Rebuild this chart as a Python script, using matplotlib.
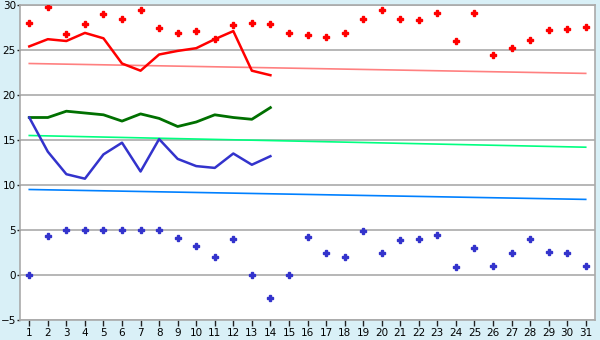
import numpy as np
import matplotlib.pyplot as plt

days = list(range(1, 32))
days_line = list(range(1, 15))

# daily maximum points (red) and minimum points (blue)
max_points = [28.0, 29.8, 26.8, 27.9, 29.0, 28.5, 29.4, 27.5, 26.9, 27.1,
              26.2, 27.8, 28.0, 27.9, 26.9, 26.7, 26.5, 26.9, 28.5, 29.5,
              28.4, 28.3, 29.1, 26.0, 29.1, 24.5, 25.2, 26.1, 27.2, 27.3, 27.6]
min_points = [0.0, 4.3, 5.0, 5.0, 5.0, 5.0, 5.0, 5.0, 4.1, 3.2,
              2.0, 4.0, 0.0, -2.5, 0.0, 4.2, 2.5, 2.0, 4.85, 2.5,
              3.85, 4.0, 4.5, 0.85, 3.0, 1.0, 2.5, 4.0, 2.6, 2.5, 1.0]

# current month lines (days 1-14)
max_line = [25.4, 26.2, 26.0, 26.9, 26.3, 23.5, 22.7, 24.5, 24.9, 25.2,
            26.2, 27.1, 22.7, 22.2]
mean_line = [17.5, 17.5, 18.2, 18.0, 17.8, 17.1, 17.9, 17.4, 16.5, 17.0,
             17.8, 17.5, 17.3, 18.6]
min_line = [17.5, 13.7, 11.2, 10.7, 13.4, 14.7, 11.5, 15.1, 12.9, 12.1,
            11.9, 13.5, 12.25, 13.2]

# normal lines, start and end of month
normal_days = [1, 31]
normal_max = [23.5, 22.4]
normal_mean = [15.5, 14.2]
normal_min = [9.5, 8.4]

fig = plt.figure(figsize=(6, 3.4), dpi=100)
fig.patch.set_facecolor('#D9F0F7')
ax = fig.add_axes([20 / 600, 20 / 340, 575 / 600, 315 / 340])
ax.set_facecolor('white')

for y in range(-5, 31, 5):
    ax.axhline(y, color='#AAAAAA', lw=1.2, zorder=1)

ax.plot(normal_days, normal_max, color='#FF8080', lw=1.2, zorder=2)
ax.plot(normal_days, normal_mean, color='#00FF80', lw=1.2, zorder=2)
ax.plot(normal_days, normal_min, color='#0080FF', lw=1.2, zorder=2)

ax.plot(days_line, max_line, color='#FF0000', lw=1.8, zorder=3)
ax.plot(days_line, mean_line, color='#007000', lw=2.0, zorder=3)
ax.plot(days_line, min_line, color='#3333CC', lw=1.8, zorder=3)

ax.plot(days, max_points, ls='none', marker='P', ms=4.5, color='#FF0000',
        mec='#FF0000', zorder=4)
ax.plot(days, min_points, ls='none', marker='P', ms=4.5, color='#3333CC',
        mec='#3333CC', zorder=4)

ax.set_xlim(0.5, 31.5)
ax.set_ylim(-5, 30)
ax.set_xticks(days)
ax.set_yticks(range(-5, 31, 5))
ax.tick_params(axis='x', labelsize=7.5, color='#222222', length=4,
               width=1, pad=1.5)
ax.tick_params(axis='y', labelsize=7.5, color='#222222', length=2.5,
               width=1, pad=0.5)
for s in ax.spines.values():
    s.set_color('#AAAAAA')
    s.set_linewidth(1.2)

fig.savefig('out.png', dpi=100, facecolor=fig.get_facecolor())
